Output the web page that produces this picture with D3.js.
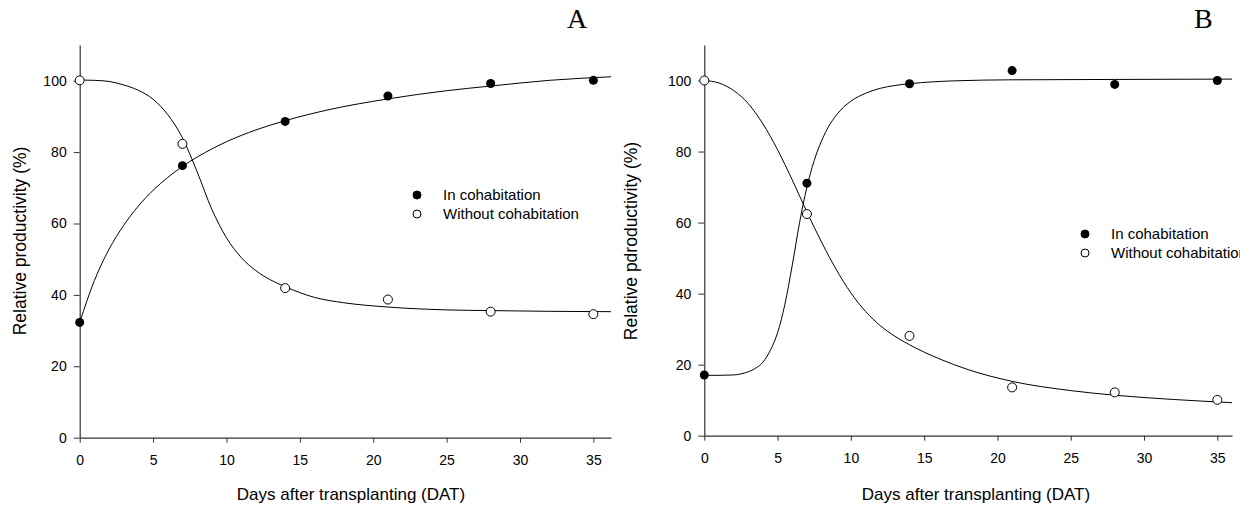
<!DOCTYPE html>
<html>
<head>
<meta charset="utf-8">
<script src="https://cdn.jsdelivr.net/npm/d3@7"></script>
<style>
  body { margin: 0; background: #fff; }
  svg { display: block; font-family: Arial, "Liberation Sans", sans-serif; }
  .axis path, .axis line { stroke: #333; }
  .axis text { font-size: 14px; fill: #000; }
</style>
</head>
<body>
<script>
'use strict';

// sampling days
var days = [0, 7, 14, 21, 28, 35];
var xTicks = [0, 5, 10, 15, 20, 25, 30, 35];
var yTicks = [0, 20, 40, 60, 80, 100];
var legendLabels = ['In cohabitation', 'Without cohabitation'];

// panel A, measured points
var inCohabA = [32.3, 76.2, 88.6, 95.7, 99.2, 100.1];
var withoutA = [100.1, 82.3, 41.9, 38.7, 35.3, 34.6];
// panel B, measured points
var inCohabB = [17.1, 71.1, 99.1, 102.8, 98.9, 100.0];
var withoutB = [100.0, 62.4, 28.1, 13.6, 12.2, 10.1];

// fitted curves
var fitInA = [[0, 32.3], [1, 44.0], [2, 52.8], [3, 59.5], [4, 64.9], [5, 69.3], [6, 72.9],
    [7, 76.0], [8, 78.6], [10, 82.9], [12, 86.2], [14, 88.8], [17, 91.9], [21, 94.9],
    [25, 97.2], [28, 98.5], [32, 100.1], [36.2, 101.1]];
var fitWithoutA = [[0, 100.2], [1, 100.1], [2, 99.8], [3, 98.8], [4, 97.3], [5, 94.8],
    [6, 90.5], [7, 84.0], [8, 74.5], [9, 64.0], [10, 56.0], [11, 50.5], [12, 46.8],
    [13, 44.2], [14, 42.3], [16, 39.3], [18, 37.8], [21, 36.6], [25, 35.8], [28, 35.6],
    [32, 35.4], [36.2, 35.3]];
var fitInB = [[0, 17.0], [1, 17.0], [2, 17.1], [2.5, 17.4], [3, 18.0], [3.5, 19.0],
    [4, 20.7], [4.5, 24.0], [5, 29.0], [5.5, 37.0], [6, 48.0], [6.5, 60.0], [7, 70.0],
    [7.5, 77.5], [8, 83.0], [8.5, 87.2], [9, 90.2], [9.5, 92.5], [10, 94.2], [11, 96.4],
    [12, 97.8], [13, 98.6], [14, 99.1], [17, 99.9], [21, 100.2], [28, 100.3], [36, 100.4]];
var fitWithoutB = [[0, 100.0], [1, 99.3], [2, 97.2], [3, 93.5], [4, 87.8], [5, 80.5],
    [6, 72.0], [7, 63.0], [8, 54.5], [9, 46.8], [10, 40.2], [11, 35.0], [12, 31.0],
    [13, 28.0], [14, 25.6], [16, 21.7], [18, 18.6], [21, 15.3], [25, 12.7], [28, 11.4],
    [32, 10.2], [36, 9.3]];

var width = 1240;
var height = 508;

var svg = d3.select('body')
    .append('svg')
    .attr('width', width)
    .attr('height', height)
    ;

var panels = [
    { tag: 'A', left: 79.7, right: 611, bottom: 437.7, xMax: 36.2, tagX: 567,
      yLabel: 'Relative productivity (%)', yLabelX: 26, xLabelX: 351,
      inCohab: inCohabA, without: withoutA, fitIn: fitInA, fitWithout: fitWithoutA,
      legendX: 417, legendY: 195 },
    { tag: 'B', left: 704.3, right: 1232, bottom: 435.7, xMax: 36, tagX: 1194,
      yLabel: 'Relative pdroductivity (%)', yLabelX: 637, xLabelX: 976,
      inCohab: inCohabB, without: withoutB, fitIn: fitInB, fitWithout: fitWithoutB,
      legendX: 1085, legendY: 234 }
];

panels.forEach(function (p) {
    var x = d3.scaleLinear().domain([0, p.xMax]).range([p.left, p.right]);
    var y = d3.scaleLinear().domain([0, 110]).range([p.bottom, 45]);
    var g = svg.append('g');

    g.append('g')
        .attr('class', 'axis')
        .attr('transform', 'translate(0,' + p.bottom + ')')
        .call(d3.axisBottom(x).tickValues(xTicks).tickSize(5).tickSizeOuter(0).tickPadding(12))
        ;

    g.append('g')
        .attr('class', 'axis')
        .attr('transform', 'translate(' + p.left + ',0)')
        .call(d3.axisLeft(y).tickValues(yTicks).tickSize(6).tickSizeOuter(0).tickPadding(7))
        ;

    g.selectAll('.domain').attr('stroke-width', 1.2);

    var line = d3.line()
        .x(function (d) { return x(d[0]); })
        .y(function (d) { return y(d[1]); })
        .curve(d3.curveMonotoneX)
        ;

    [p.fitIn, p.fitWithout].forEach(function (c) {
        g.append('path')
            .datum(c)
            .attr('d', line)
            .attr('fill', 'none')
            .attr('stroke', '#000')
            .attr('stroke-width', 1)
            ;
    });

    g.selectAll('circle.in')
        .data(p.inCohab)
        .enter()
        .append('circle')
        .attr('class', 'in')
        .attr('cx', function (d, i) { return x(days[i]); })
        .attr('cy', y)
        .attr('r', 4.5)
        .attr('fill', '#000')
        ;

    g.selectAll('circle.out')
        .data(p.without)
        .enter()
        .append('circle')
        .attr('class', 'out')
        .attr('cx', function (d, i) { return x(days[i]); })
        .attr('cy', y)
        .attr('r', 4.5)
        .attr('fill', '#fff')
        .attr('stroke', '#000')
        .attr('stroke-width', 1)
        ;

    // legend
    var leg = g.selectAll('g.leg')
        .data(legendLabels)
        .enter()
        .append('g')
        .attr('transform', function (d, i) {
            return 'translate(' + p.legendX + ',' + (p.legendY + i * 19) + ')';
        })
        ;
    leg.append('circle')
        .attr('r', 4)
        .attr('fill', function (d, i) { return i === 0 ? '#000' : '#fff'; })
        .attr('stroke', '#000')
        ;
    leg.append('text')
        .attr('x', 26)
        .attr('dy', '0.35em')
        .attr('font-size', 15)
        .text(function (d) { return d; })
        ;

    // axis titles
    g.append('text')
        .attr('x', p.xLabelX)
        .attr('y', 500)
        .attr('text-anchor', 'middle')
        .attr('font-size', 17)
        .text('Days after transplanting (DAT)')
        ;
    g.append('text')
        .attr('transform', 'translate(' + p.yLabelX + ',' + 241 + ') rotate(-90)')
        .attr('text-anchor', 'middle')
        .attr('font-size', 17.5)
        .text(p.yLabel)
        ;

    g.append('text')
        .attr('x', p.tagX)
        .attr('y', 28)
        .attr('font-family', '"Liberation Serif", "Times New Roman", serif')
        .attr('font-size', 28)
        .text(p.tag)
        ;
});
</script>
</body>
</html>
